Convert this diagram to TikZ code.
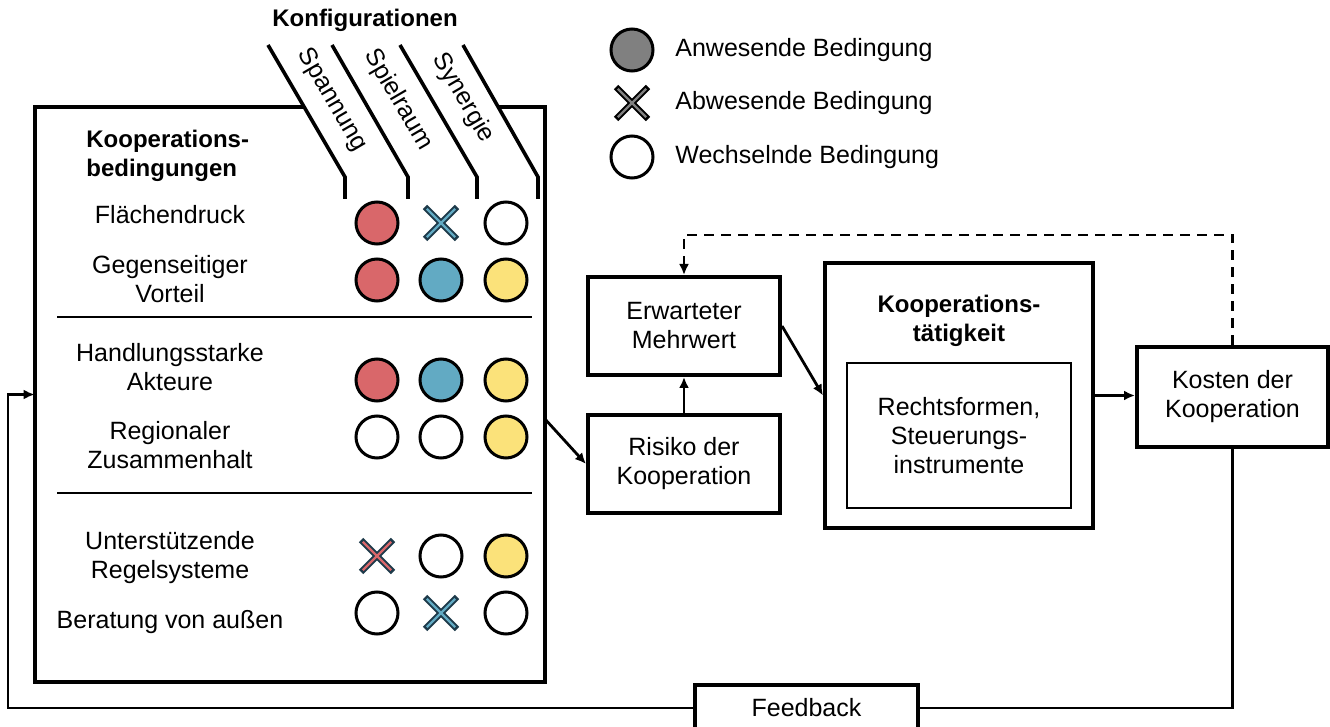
\documentclass[tikz,border=0pt]{standalone}
\usepackage{fontspec}
\setmainfont{Liberation Sans}
\usetikzlibrary{arrows.meta,calc}
\definecolor{cred}{HTML}{D9676A}
\definecolor{cblue}{HTML}{62AAC3}
\definecolor{cyellow}{HTML}{FBE27A}
\definecolor{cgray}{HTML}{808080}
\definecolor{xdark}{HTML}{1E3A4A}
\tikzset{
  pics/xmark/.style 2 args={code={
    \draw[line width=3.1pt, #1] (-16,-16) -- (16,16);
    \draw[line width=3.1pt, #1] (-16,16) -- (16,-16);
    \draw[line width=1.1pt, #2, shorten <=1.3pt, shorten >=1.3pt] (-16,-16) -- (16,16);
    \draw[line width=1.1pt, #2, shorten <=1.3pt, shorten >=1.3pt] (-16,16) -- (16,-16);
  }}
}
\begin{document}
\begin{tikzpicture}[x=0.5pt,y=-0.5pt,
  font=\fontsize{12.5}{14.5}\selectfont,
  lab/.style={align=center, inner sep=0pt},
  dot/.style={circle, draw, line width=1.5pt, minimum size=21pt, inner sep=0pt},
  box/.style={draw, line width=2pt, align=center, inner sep=0pt},
  arr/.style={line width=1.4pt, -{Latex[length=5.5pt,width=5pt]}},
  conn/.style={line width=1.4pt},
  hdr/.style={line width=1.8pt},
  sepl/.style={line width=1.2pt},
  bold/.style={font=\fontsize{12}{14.5}\selectfont\bfseries, align=center, inner sep=0pt}
]
\path[use as bounding box] (0,0) rectangle (1330,727);
\clip (0,0) rectangle (1330,727);

% header
\node[bold] (konf) at (365,20) {Konfigurationen};
\draw[hdr] (268,45) -- (345,177) -- (345,199);
\draw[hdr] (332,45) -- (408,177) -- (408,199);
\draw[hdr] (400,45) -- (477,177) -- (477,199);
\draw[hdr] (463,45) -- (538,177) -- (538,199);
\node[lab, rotate=-59.7] (h1) at (332,100) {Spannung};
\node[lab, rotate=-59.7] (h2) at (398,100) {Spielraum};
\node[lab, rotate=-59.7] (h3) at (463,98) {Synergie};

% legend
\node[dot, fill=cgray] (lg1) at (632,50) {};
\pic (lg2) at (632,103) {xmark={black}{cgray}};
\node[dot, fill=white] (lg3) at (632,157) {};
\node[lab, anchor=west] (lt1) at (675,50) {Anwesende Bedingung};
\node[lab, anchor=west] (lt2) at (675,103) {Abwesende Bedingung};
\node[lab, anchor=west] (lt3) at (675,157) {Wechselnde Bedingung};

% main box
\node[inner sep=0pt, minimum width=255pt, minimum height=287.5pt] (cond) at (290,394.5) {};
\draw[line width=2pt, line join=miter] (304,107) -- (35,107) -- (35,682) -- (545,682) -- (545,107) -- (498,107);
\draw[sepl] (57,317) -- (532,317);
\draw[sepl] (57,493) -- (532,493);

\node[bold, anchor=west, align=left] (ttl) at (86,156) {Kooperations-\\bedingungen};
\node[lab] (l1) at (170,215) {Flächendruck};
\node[lab] (l2) at (170,279) {Gegenseitiger\\Vorteil};
\node[lab] (l3) at (170,367) {Handlungsstarke\\Akteure};
\node[lab] (l4) at (170,445) {Regionaler\\Zusammenhalt};
\node[lab] (l5) at (170,558) {Unterstützende\\Regelsysteme};
\node[lab] (l6) at (170,622) {Beratung von außen};

% grid
\node[dot, fill=cred] (c11) at (377,223) {};
\pic (c12) at (441,223) {xmark={xdark}{cblue}};
\node[dot, fill=white] (c13) at (506,223) {};
\node[dot, fill=cred] (c21) at (377,280) {};
\node[dot, fill=cblue] (c22) at (441,280) {};
\node[dot, fill=cyellow] (c23) at (506,280) {};
\node[dot, fill=cred] (c31) at (377,380) {};
\node[dot, fill=cblue] (c32) at (441,380) {};
\node[dot, fill=cyellow] (c33) at (506,380) {};
\node[dot, fill=white] (c41) at (377,437) {};
\node[dot, fill=white] (c42) at (441,437) {};
\node[dot, fill=cyellow] (c43) at (506,437) {};
\pic (c51) at (377,556) {xmark={xdark}{cred}};
\node[dot, fill=white] (c52) at (441,556) {};
\node[dot, fill=cyellow] (c53) at (506,556) {};
\node[dot, fill=white] (c61) at (377,613) {};
\pic (c62) at (441,613) {xmark={xdark}{cblue}};
\node[dot, fill=white] (c63) at (506,613) {};

% process boxes
\node[box, minimum width=96pt, minimum height=49pt] (mehr) at (684,326) {Erwarteter\\Mehrwert};
\node[box, minimum width=96pt, minimum height=49pt] (risk) at (684,464) {Risiko der\\Kooperation};
\node[box, minimum width=134pt, minimum height=132.5pt] (koop) at (959,395.5) {};
\node[bold] (kt) at (959,321) {Kooperations-\\tätigkeit};
\node[draw, line width=1.3pt, align=center, inner sep=0pt, minimum width=112pt, minimum height=72.5pt] (inner) at (959,435.5) {Rechtsformen,\\Steuerungs-\\instrumente};
\node[box, minimum width=95.5pt, minimum height=50pt] (kost) at (1232.5,397) {Kosten der\\Kooperation};
\node[box, minimum width=111.5pt, minimum height=23pt] (fb) at (806.5,708) {Feedback};

% connectors
\draw[arr] (risk.north) -- (mehr.south);
\draw[arr] (mehr.east) -- (koop.west);
\draw[arr] (koop.east) -- (koop.east -| kost.west);
\draw[arr] ([yshift=-12.5pt]cond.east) -- (risk.west);
\coordinate (dtop) at (684,235);
\draw[arr, dash pattern=on 5pt off 3.5pt] (kost.north) |- (dtop) -- (mehr.north);
\draw[conn] (kost.south) |- (fb.east);
\coordinate (fbl) at (8,708);
\draw[arr] (fb.west) -- (fbl) |- (cond.west);
\end{tikzpicture}
\end{document}
